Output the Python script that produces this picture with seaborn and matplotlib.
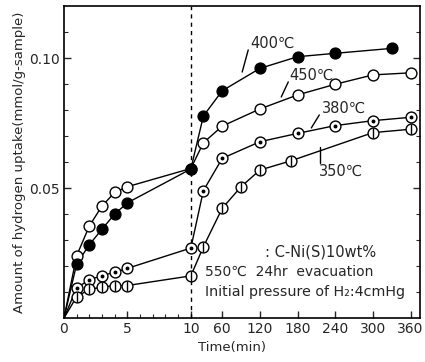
import numpy as np
import pandas as pd
import matplotlib
matplotlib.use("Agg")
import matplotlib.pyplot as plt
from matplotlib.ticker import NullFormatter
import seaborn as sns

# ---- data (time in min, uptake in mmol/g-sample) ----
t400 = [0, 1, 2, 3, 4, 5, 10, 30, 60, 120, 180, 240, 330]
v400 = [0, 0.0208, 0.0282, 0.0342, 0.0400, 0.0443, 0.0573, 0.0777, 0.0874, 0.0960, 0.1005, 0.1018, 0.1037]
t450 = [0, 1, 2, 3, 4, 5, 10, 30, 60, 120, 180, 240, 300, 360]
v450 = [0, 0.0240, 0.0354, 0.0431, 0.0483, 0.0505, 0.0575, 0.0674, 0.0738, 0.0804, 0.0858, 0.0899, 0.0935, 0.0943]
t380 = [0, 1, 2, 3, 4, 5, 10, 30, 60, 120, 180, 240, 300, 360]
v380 = [0, 0.0116, 0.0147, 0.0163, 0.0176, 0.0191, 0.0269, 0.0490, 0.0614, 0.0678, 0.0710, 0.0740, 0.0759, 0.0772]
t350 = [0, 1, 2, 3, 4, 5, 10, 30, 60, 90, 120, 170, 300, 360]
v350 = [0, 0.0082, 0.0110, 0.0119, 0.0125, 0.0125, 0.0162, 0.0274, 0.0422, 0.0505, 0.0569, 0.0605, 0.0713, 0.0726]

series_names = ["400℃", "450℃", "380℃", "350℃"]
x_major = [0, 5, 10, 60, 120, 180, 240, 300, 360]
x_labels = ["0", "5", "10", "60", "120", "180", "240", "300", "360"]
y_major = [0.05, 0.10]
y_labels = ["0.05", "0.10"]

frames = []
for name, t, v in zip(series_names, [t400, t450, t380, t350], [v400, v450, v380, v350]):
    frames.append(pd.DataFrame({"time": t, "uptake": v, "temp": name}))
df = pd.concat(frames, ignore_index=True)

sns.set_style("ticks")
plt.rcParams["font.family"] = ["DejaVu Sans"]

fig = plt.figure(figsize=(4.25, 3.62), dpi=100)
ax = fig.add_axes([64 / 425, 1 - 318 / 362, (420 - 64) / 425, (318 - 6) / 362])

K = 0.0495


def fwd(t):
    t = np.asarray(t, dtype=float)
    return np.where(t <= 10, t, 10 + (t - 10) * K)


def inv(u):
    u = np.asarray(u, dtype=float)
    return np.where(u <= 10, u, 10 + (u - 10) / K)


ax.set_xscale("function", functions=(fwd, inv))

sns.lineplot(data=df, x="time", y="uptake", hue="temp",
             palette={n: "black" for n in series_names}, legend=False,
             linewidth=1.0, ax=ax, sort=True, estimator=None)

ms = 7.8
for name in series_names:
    d = df[(df.temp == name) & (df.time > 0)]
    if name == "400℃":
        ax.plot(d.time, d.uptake, "o", ms=ms, mfc="black", mec="black", zorder=5)
    else:
        ax.plot(d.time, d.uptake, "o", ms=ms, mfc="white", mec="black", mew=1.0, zorder=4)
        if name == "380℃":
            ax.plot(d.time, d.uptake, "o", ms=1.8, mfc="black", mec="black", zorder=4.5)
        if name == "350℃":
            ax.plot(d.time, d.uptake, "|", ms=ms, mec="black", mew=1.0, zorder=4.5)

ax.axvline(10, color="black", linestyle=(0, (3, 3)), linewidth=1.0, zorder=1)

ax.set_xlim(0, 375)
ax.set_ylim(0, 0.12)
ax.set_xticks(x_major)
ax.set_xticklabels(x_labels)
ax.set_xticks([1, 2, 3, 4, 6, 7, 8, 9], minor=True)
ax.xaxis.set_minor_formatter(NullFormatter())
ax.set_yticks(y_major)
ax.set_yticklabels(y_labels)
ax.set_yticks([0.01, 0.02, 0.03, 0.04, 0.06, 0.07, 0.08, 0.09, 0.11], minor=True)
ax.yaxis.set_minor_formatter(NullFormatter())
ax.tick_params(axis="both", which="major", direction="in", length=5, width=1,
               labelsize=10, pad=3, right=True)
ax.tick_params(axis="both", which="minor", direction="in", length=3, width=0.8, right=True)
for s in ax.spines.values():
    s.set_linewidth(1.2)
    s.set_color("black")

ax.set_xlabel("Time(min)", fontsize=9.5, labelpad=2)
ax.xaxis.set_label_coords(0.472, -0.075)
ax.set_ylabel("Amount of hydrogen uptake(mmol/g-sample)", fontsize=9.5, labelpad=2)

# series labels with leader lines
fs = 10.5
leaders = [
    ((91.8, 0.0946), (101.4, 0.1031)),
    ((154, 0.0850), (165.2, 0.0908)),
    ((201.9, 0.0731), (214.6, 0.0781)),
    ((216.2, 0.0658), (216.2, 0.0596)),
]
for (a, b) in leaders:
    ax.plot([a[0], b[0]], [a[1], b[1]], color="black", lw=1.0)
ax.text(104.6, 0.1058, "400℃", fontsize=fs, ha="left", va="center")
ax.text(166.8, 0.0935, "450℃", fontsize=fs, ha="left", va="center")
ax.text(219.4, 0.0808, "380℃", fontsize=fs, ha="left", va="center")
ax.text(214.0, 0.0565, "350℃", fontsize=fs, ha="left", va="center")

ax.text(128, 0.0254, ": C-Ni(S)10wt%", fontsize=10.5, ha="left", va="center")
ax.text(32, 0.0178, "550℃  24hr  evacuation", fontsize=10, ha="left", va="center")
ax.text(32, 0.0101, "Initial pressure of H₂:4cmHg", fontsize=10.3, ha="left", va="center")

fig.savefig("out.png", dpi=100)
